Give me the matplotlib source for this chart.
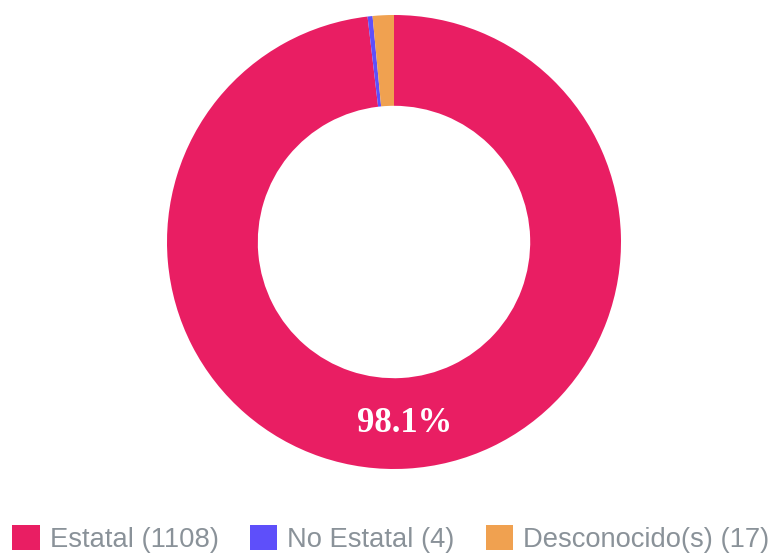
import numpy as np
import matplotlib.pyplot as plt
from matplotlib.patches import Patch

# datos
labels = ['Estatal', 'No Estatal', 'Desconocido(s)']
values = [1108, 4, 17]
colors = ['#E91E63', '#5E4FFA', '#F0A150']

fig = plt.figure(figsize=(7.82, 5.54), dpi=100)
# eje cuadrado centrado en el donut
ax = fig.add_axes([167 / 782, 85 / 554, 454 / 782, 454 / 554])
ax.set_aspect('equal')

hole = 0.6
wedges, _ = ax.pie(values, colors=colors, startangle=90, counterclock=False,
                   radius=1, wedgeprops=dict(width=1 - hole, linewidth=0))
ax.set_xlim(-1, 1)
ax.set_ylim(-1, 1)

# porcentaje solo en el sector grande
total = sum(values)
for w, v in zip(wedges, values):
    pct = v / total * 100
    if pct < 5:
        continue
    ang = np.deg2rad((w.theta1 + w.theta2) / 2)
    r = (1 + hole) / 2
    ax.text(r * np.cos(ang), r * np.sin(ang), '%.1f%%' % pct, color='white',
            ha='center', va='center', fontsize=25, fontweight='bold',
            family='Liberation Serif')

handles = [Patch(facecolor=c, edgecolor='none') for c in colors]
leg_labels = ['%s (%d)' % (l, v) for l, v in zip(labels, values)]
fig.legend(handles, leg_labels, loc='center', ncol=3, frameon=False,
           bbox_to_anchor=(0.5, 1 - 539 / 554),
           prop={'family': 'Liberation Sans', 'size': 19.7},
           labelcolor='#8a9299', handlelength=1.0, handleheight=1.0,
           handletextpad=0.36, columnspacing=1.15, borderpad=0, borderaxespad=0)

fig.savefig('out.png', dpi=100)
